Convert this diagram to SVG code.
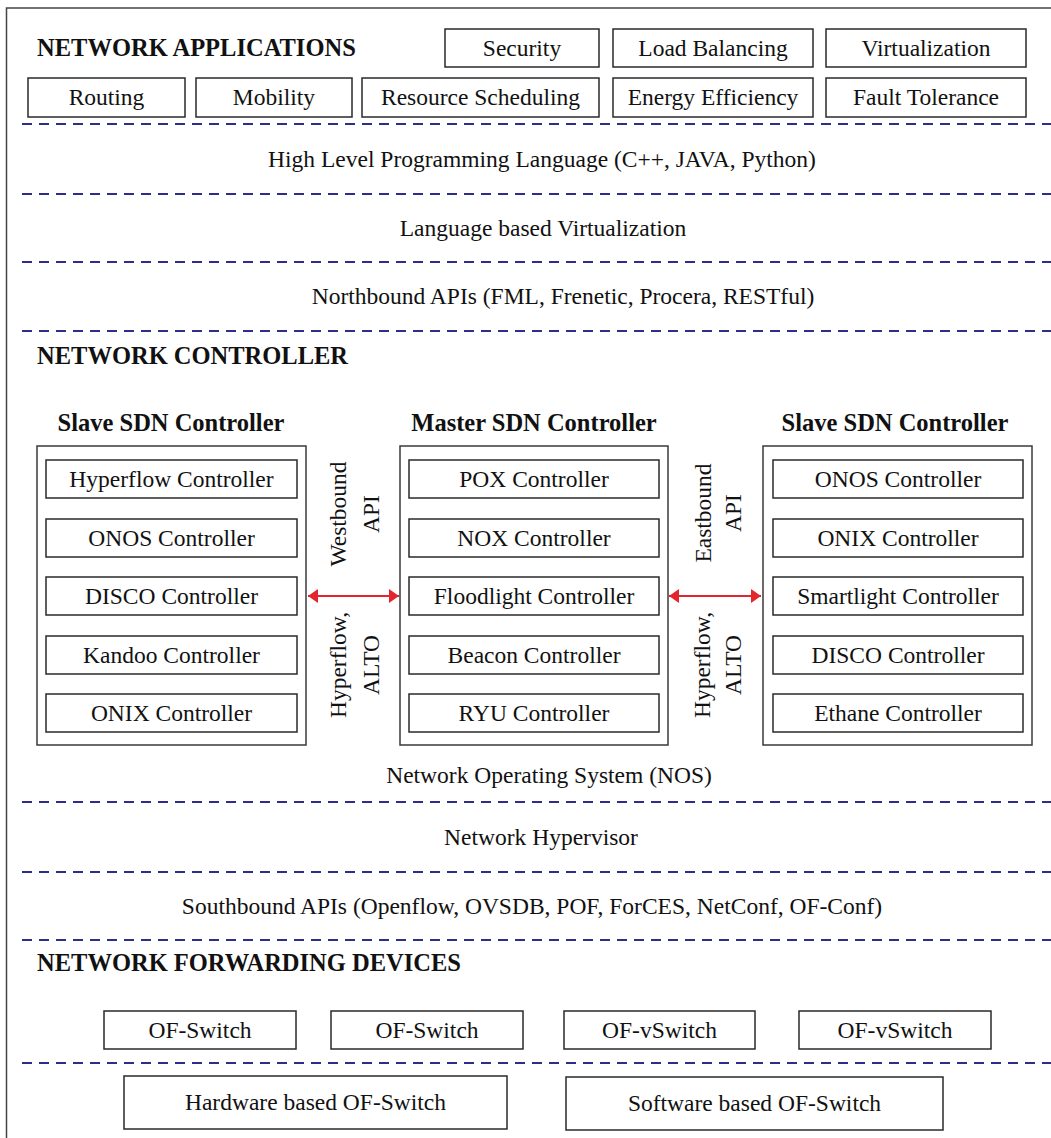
<svg xmlns="http://www.w3.org/2000/svg" width="1051" height="1138" viewBox="0 0 1051 1138">
<style>
  text { font-family: "Liberation Serif", "Times New Roman", serif; fill: #111; }
  .t { font-size: 23.5px; }
  .c { text-anchor: middle; }
  .h { font-size: 24.5px; font-weight: bold; }
  .box { fill: #fff; stroke: #2a2a2a; stroke-width: 1.5; }
  .cont { fill: #fff; stroke: #3a3a3a; stroke-width: 1.5; }
  .dash { stroke: #2e2e8a; stroke-width: 2; stroke-dasharray: 10 7; fill: none; }
  .arrow { stroke: #e3262b; stroke-width: 2; fill: none; marker-start: url(#ah); marker-end: url(#ah); }
</style>
<defs>
  <marker id="ah" markerUnits="userSpaceOnUse" markerWidth="11" markerHeight="14" refX="10" refY="7" orient="auto-start-reverse">
    <path d="M0,0 L10,7 L0,14 z" fill="#e3262b"/>
  </marker>
</defs>
<rect x="0" y="0" width="1051" height="1138" fill="#fff"/>
<rect x="6.5" y="8" width="1070" height="1160" fill="none" stroke="#444" stroke-width="1.5"/>

<!-- Dashed separators -->
<g id="separators">
  <line class="dash" x1="22" y1="124" x2="1051" y2="124"/>
  <line class="dash" x1="22" y1="194" x2="1051" y2="194"/>
  <line class="dash" x1="22" y1="262" x2="1051" y2="262"/>
  <line class="dash" x1="22" y1="331" x2="1051" y2="331"/>
  <line class="dash" x1="22" y1="802" x2="1051" y2="802"/>
  <line class="dash" x1="22" y1="872" x2="1051" y2="872"/>
  <line class="dash" x1="22" y1="940" x2="1051" y2="940"/>
  <line class="dash" x1="22" y1="1063" x2="1051" y2="1063"/>
</g>

<!-- Headings and layer labels -->
<g id="labels">
  <text class="h" x="37" y="56">NETWORK APPLICATIONS</text>
  <text class="t c" x="542" y="167">High Level Programming Language (C++, JAVA, Python)</text>
  <text class="t c" x="543" y="236">Language based Virtualization</text>
  <text class="t c" x="563" y="304">Northbound APIs (FML, Frenetic, Procera, RESTful)</text>
  <text class="h" x="37" y="364">NETWORK CONTROLLER</text>
  <text class="t c" x="549" y="783">Network Operating System (NOS)</text>
  <text class="t c" x="541" y="845">Network Hypervisor</text>
  <text class="t c" x="532" y="914">Southbound APIs (Openflow, OVSDB, POF, ForCES, NetConf, OF-Conf)</text>
  <text class="h" x="37" y="971">NETWORK FORWARDING DEVICES</text>
</g>

<!-- Network applications -->
<g id="app-security"><rect class="box" x="445" y="29" width="154" height="38"/><text class="t c" x="522" y="56">Security</text></g>
<g id="app-loadbalancing"><rect class="box" x="613" y="29" width="200" height="38"/><text class="t c" x="713" y="56">Load Balancing</text></g>
<g id="app-virtualization"><rect class="box" x="826" y="29" width="200" height="38"/><text class="t c" x="926" y="56">Virtualization</text></g>
<g id="app-routing"><rect class="box" x="28" y="78" width="157" height="39"/><text class="t c" x="106.5" y="105">Routing</text></g>
<g id="app-mobility"><rect class="box" x="196" y="78" width="156" height="39"/><text class="t c" x="274" y="105">Mobility</text></g>
<g id="app-resource"><rect class="box" x="362" y="78" width="237" height="39"/><text class="t c" x="480.5" y="105">Resource Scheduling</text></g>
<g id="app-energy"><rect class="box" x="613" y="78" width="200" height="39"/><text class="t c" x="713" y="105">Energy Efficiency</text></g>
<g id="app-fault"><rect class="box" x="826" y="78" width="200" height="39"/><text class="t c" x="926" y="105">Fault Tolerance</text></g>

<!-- Left slave controller -->
<g id="slave-left">
  <text class="h c" x="171" y="431">Slave SDN Controller</text>
  <rect class="cont" x="37" y="446" width="269" height="299"/>
  <rect class="box" x="46" y="460" width="251" height="38"/><text class="t c" x="171.5" y="487">Hyperflow Controller</text>
  <rect class="box" x="46" y="519" width="251" height="38"/><text class="t c" x="171.5" y="546">ONOS Controller</text>
  <rect class="box" x="46" y="577" width="251" height="38"/><text class="t c" x="171.5" y="604">DISCO Controller</text>
  <rect class="box" x="46" y="636" width="251" height="38"/><text class="t c" x="171.5" y="663">Kandoo Controller</text>
  <rect class="box" x="46" y="694" width="251" height="38"/><text class="t c" x="171.5" y="721">ONIX Controller</text>
</g>

<!-- Master controller -->
<g id="master">
  <text class="h c" x="534" y="431">Master SDN Controller</text>
  <rect class="cont" x="400" y="446" width="268" height="299"/>
  <rect class="box" x="409" y="460" width="250" height="38"/><text class="t c" x="534" y="487">POX Controller</text>
  <rect class="box" x="409" y="519" width="250" height="38"/><text class="t c" x="534" y="546">NOX Controller</text>
  <rect class="box" x="409" y="577" width="250" height="38"/><text class="t c" x="534" y="604">Floodlight Controller</text>
  <rect class="box" x="409" y="636" width="250" height="38"/><text class="t c" x="534" y="663">Beacon Controller</text>
  <rect class="box" x="409" y="694" width="250" height="38"/><text class="t c" x="534" y="721">RYU Controller</text>
</g>

<!-- Right slave controller -->
<g id="slave-right">
  <text class="h c" x="895" y="431">Slave SDN Controller</text>
  <rect class="cont" x="763" y="446" width="269" height="299"/>
  <rect class="box" x="773" y="460" width="250" height="38"/><text class="t c" x="898" y="487">ONOS Controller</text>
  <rect class="box" x="773" y="519" width="250" height="38"/><text class="t c" x="898" y="546">ONIX Controller</text>
  <rect class="box" x="773" y="577" width="250" height="38"/><text class="t c" x="898" y="604">Smartlight Controller</text>
  <rect class="box" x="773" y="636" width="250" height="38"/><text class="t c" x="898" y="663">DISCO Controller</text>
  <rect class="box" x="773" y="694" width="250" height="38"/><text class="t c" x="898" y="721">Ethane Controller</text>
</g>

<!-- Connectors -->
<g id="connectors">
  <line class="arrow" x1="308" y1="596" x2="399" y2="596"/>
  <line class="arrow" x1="669" y1="596" x2="761" y2="596"/>
  <g id="westbound-label">
    <text class="t c" transform="translate(346,514) rotate(-90)">Westbound</text>
    <text class="t c" transform="translate(379,514) rotate(-90)">API</text>
    <text class="t c" transform="translate(346,665) rotate(-90)">Hyperflow,</text>
    <text class="t c" transform="translate(379,665) rotate(-90)">ALTO</text>
  </g>
  <g id="eastbound-label">
    <text class="t c" transform="translate(711,513) rotate(-90)">Eastbound</text>
    <text class="t c" transform="translate(741,513) rotate(-90)">API</text>
    <text class="t c" transform="translate(710,665) rotate(-90)">Hyperflow,</text>
    <text class="t c" transform="translate(741,665) rotate(-90)">ALTO</text>
  </g>
</g>

<!-- Forwarding devices -->
<g id="sw-1"><rect class="box" x="104" y="1011" width="192" height="38"/><text class="t c" x="200" y="1038">OF-Switch</text></g>
<g id="sw-2"><rect class="box" x="331" y="1011" width="192" height="38"/><text class="t c" x="427" y="1038">OF-Switch</text></g>
<g id="vsw-1"><rect class="box" x="564" y="1011" width="191" height="38"/><text class="t c" x="659.5" y="1038">OF-vSwitch</text></g>
<g id="vsw-2"><rect class="box" x="799" y="1011" width="192" height="38"/><text class="t c" x="895" y="1038">OF-vSwitch</text></g>
<g id="hw-switch"><rect class="box" x="124" y="1076" width="383" height="53"/><text class="t c" x="315.5" y="1110">Hardware based OF-Switch</text></g>
<g id="sw-switch"><rect class="box" x="566" y="1077" width="377" height="53"/><text class="t c" x="754.5" y="1111">Software based OF-Switch</text></g>
</svg>
